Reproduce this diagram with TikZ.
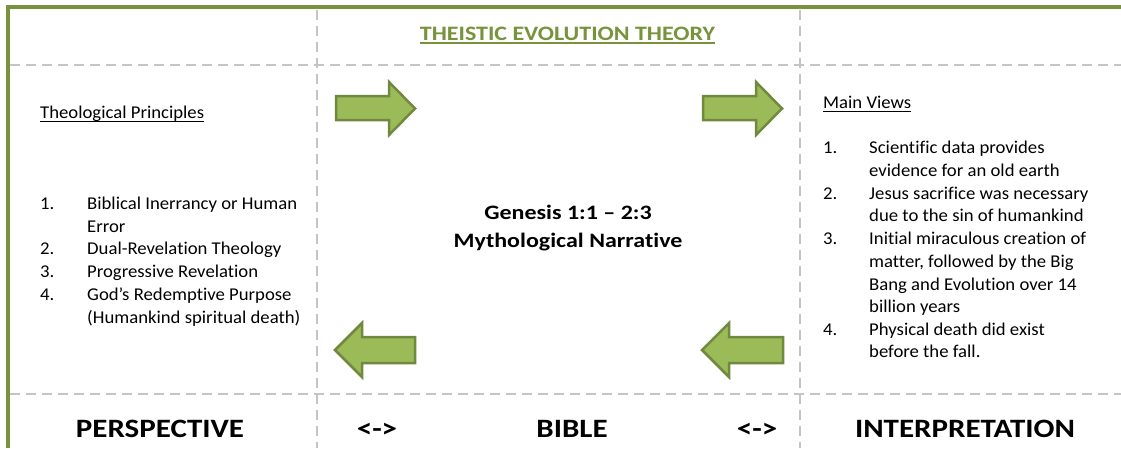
\documentclass[tikz,border=0pt]{standalone}
\usepackage{fontspec}
\setmainfont{Carlito}[FakeStretch=1.04, Ligatures=NoCommon]
\newfontfamily\widebold{Carlito}[FakeStretch=1.17, Ligatures=NoCommon]
\definecolor{framegreen}{HTML}{77933C}
\definecolor{arrowfill}{HTML}{9BBB59}
\definecolor{arrowline}{HTML}{71893F}
\definecolor{dashgray}{HTML}{C4C4C4}
\begin{document}
\begin{tikzpicture}[x=1pt,y=-1pt,
  dashline/.style={draw=dashgray, line width=2pt, dash pattern=on 10pt off 6pt},
  frameline/.style={draw=framegreen, line width=3.5pt},
  bigarrow/.style={fill=arrowfill, draw=arrowline, line width=2.5pt, line join=miter},
  listtxt/.style={anchor=base west, inner sep=0pt, font=\fontsize{18}{22}\selectfont},
  numtxt/.style={anchor=base west, inner sep=0pt, font=\fontsize{18}{22}\selectfont},
  headtxt/.style={anchor=base west, inner sep=0pt, font=\fontsize{18}{22}\selectfont},
  centertxt/.style={anchor=base, inner sep=0pt, font=\widebold\fontsize{20.5}{24}\selectfont\bfseries},
  bottomlbl/.style={anchor=base, inner sep=0pt, font=\widebold\fontsize{26.5}{30}\selectfont\bfseries},
  titletxt/.style={anchor=base, inner sep=0pt, text=framegreen, font=\widebold\fontsize{20.5}{24}\selectfont\bfseries}]
\useasboundingbox (0,0) rectangle (1121,448);
\fill[white] (0,0) rectangle (1121,448);

% dashed grid
\draw[dashline] (10,65) -- (1121,65);
\draw[dashline] (10,394) -- (1121,394);
\draw[dashline] (317,10) -- (317,448);
\draw[dashline] (800,10) -- (800,448);

% green frame
\draw[frameline] (8,448) -- (8,7) -- (1121,7);

% title
\node[titletxt] (title) at (567.5,40) {THEISTIC EVOLUTION THEORY};
\draw[framegreen, line width=1.5pt] ([yshift=-3pt]title.base west) -- ([yshift=-3pt]title.base east);

% arrows
\draw[bigarrow] (336,96) -- (389,96) -- (389,82) -- (415,108.5) -- (389,135) -- (389,120) -- (336,120) -- cycle;
\draw[bigarrow] (703,96) -- (756,96) -- (756,82) -- (782,108.5) -- (756,135) -- (756,120) -- (703,120) -- cycle;
\draw[bigarrow] (415,337) -- (362,337) -- (362,323) -- (335,350) -- (362,377) -- (362,363) -- (415,363) -- cycle;
\draw[bigarrow] (783,337) -- (729,337) -- (729,323) -- (702,350) -- (729,377) -- (729,363) -- (783,363) -- cycle;

% left column
\node[headtxt] (tp) at (40,118) {Theological Principles};
\draw[black, line width=1pt] ([yshift=-3pt]tp.base west) -- ([yshift=-3pt]tp.base east);
\node[numtxt] (ln1) at (40,209) {1.};
\node[numtxt] (ln2) at (40,254) {2.};
\node[numtxt] (ln3) at (40,277) {3.};
\node[numtxt] (ln4) at (40,300) {4.};
\node[listtxt] (lt1) at (87,209) {Biblical Inerrancy or Human};
\node[listtxt] (lt2) at (87,232) {Error};
\node[listtxt] (lt3) at (87,254) {Dual-Revelation Theology};
\node[listtxt] (lt4) at (87,277) {Progressive Revelation};
\node[listtxt] (lt5) at (87,300) {God’s Redemptive Purpose};
\node[listtxt] (lt6) at (87,323) {(Humankind spiritual death)};

% center
\node[centertxt] (gen) at (568,219) {Genesis 1:1 – 2:3};
\node[centertxt] (myth) at (568,247) {Mythological Narrative};

% right column
\node[headtxt] (mv) at (823,108) {Main Views};
\draw[black, line width=1pt] ([yshift=-3pt]mv.base west) -- ([yshift=-3pt]mv.base east);
\node[numtxt] (rn1) at (823,153) {1.};
\node[numtxt] (rn2) at (823,199) {2.};
\node[numtxt] (rn3) at (823,244) {3.};
\node[numtxt] (rn4) at (823,335) {4.};
\node[listtxt] (rt1) at (869,153) {Scientific data provides};
\node[listtxt] (rt2) at (869,176) {evidence for an old earth};
\node[listtxt] (rt3) at (869,199) {Jesus sacrifice was necessary};
\node[listtxt] (rt4) at (869,221) {due to the sin of humankind};
\node[listtxt] (rt5) at (869,244) {Initial miraculous creation of};
\node[listtxt] (rt6) at (869,267) {matter, followed by the Big};
\node[listtxt] (rt7) at (869,290) {Bang and Evolution over 14};
\node[listtxt] (rt8) at (869,312) {billion years};
\node[listtxt] (rt9) at (869,335) {Physical death did exist};
\node[listtxt] (rt10) at (869,357) {before the fall.};

% bottom labels
\node[bottomlbl] (persp) at (160,437) {PERSPECTIVE};
\node[bottomlbl] (lr1) at (377,437) {<->};
\node[bottomlbl] (bible) at (572,437) {BIBLE};
\node[bottomlbl] (lr2) at (757,437) {<->};
\node[bottomlbl] (interp) at (965,437) {INTERPRETATION};
\end{tikzpicture}
\end{document}
